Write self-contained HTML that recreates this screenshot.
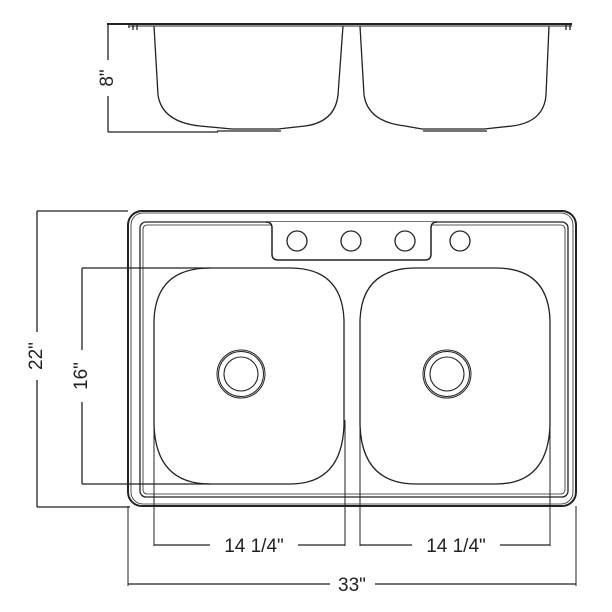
<!DOCTYPE html>
<html><head><style>body{margin:0;background:#fff}svg{display:block}</style></head><body>
<svg width="612" height="612" viewBox="0 0 612 612" xmlns="http://www.w3.org/2000/svg" fill="none" stroke="#222" stroke-width="1.3">
<!-- top (side) view -->
<line x1="107" y1="24" x2="572" y2="24" stroke-width="2"/>
<line x1="130" y1="26" x2="572" y2="26" stroke-width="1"/>
<path d="M129 28v-4M133 30v-5M137 30v-5M566 30v-5M570 30v-5"/>
<path d="M154 26 L158 95 Q162 122 200 126 L232 129 L278 129 L305 126 Q335 122 338 95 L343 26"/>
<path d="M360 26 L364 95 Q368 122 405 126 L422 129 L484 129 L512 126 Q544 122 546 95 L549 26"/>
<line x1="217" y1="131" x2="281" y2="131"/><line x1="423" y1="131" x2="487" y2="131"/>
<line x1="108" y1="25" x2="108" y2="60"/><line x1="108" y1="96" x2="108" y2="132"/>
<line x1="108" y1="132" x2="218" y2="132"/>
<text x="108" y="78" transform="rotate(-90 108 78)" font-family="Liberation Sans, sans-serif" font-size="19" fill="#222" stroke="none" text-anchor="middle" dominant-baseline="middle">8"</text>
<!-- plan view -->
<rect x="128" y="211" width="448" height="295" rx="14" stroke-width="2"/>
<rect x="131" y="213" width="442" height="291" rx="12" stroke-width="0.8"/>
<rect x="140" y="222" width="428" height="275" rx="6"/>
<rect x="143" y="225" width="422" height="269" rx="4" stroke-width="0.8"/>
<path d="M266 222 Q272 222 272 228 L272 254 Q272 260 278 260 L425 260 Q431 260 431 254 L431 228 Q431 222 437 222" fill="#fff" stroke-width="1.5"/>
<circle cx="297" cy="241" r="10"/><circle cx="351" cy="241" r="10"/><circle cx="405" cy="241" r="10"/><circle cx="460" cy="241" r="10"/>
<path d="M154 320 Q156 268 210 268 L290 268 Q342 268 344 320 L344 425 Q342 484 290 484 L210 484 Q156 484 154 425 Z"/>
<path d="M360 320 Q362 268 416 268 L496 268 Q548 268 550 320 L550 425 Q548 484 496 484 L416 484 Q362 484 360 425 Z"/>
<circle cx="241" cy="374" r="24" stroke-width="1"/><circle cx="241" cy="374" r="22.5" stroke-width="1"/><circle cx="241" cy="374" r="17" stroke-width="1.1"/>
<circle cx="447" cy="374" r="24" stroke-width="1"/><circle cx="447" cy="374" r="22.5" stroke-width="1"/><circle cx="447" cy="374" r="17" stroke-width="1.1"/>
<!-- 22 -->
<line x1="37" y1="211" x2="128" y2="211"/><line x1="37" y1="507" x2="130" y2="507"/>
<line x1="37" y1="211" x2="37" y2="332"/><line x1="37" y1="380" x2="37" y2="507"/>
<text x="37" y="356" transform="rotate(-90 37 356)" font-family="Liberation Sans, sans-serif" font-size="19" fill="#222" stroke="none" text-anchor="middle" dominant-baseline="middle">22"</text>
<!-- 16 -->
<line x1="82" y1="268" x2="210" y2="268"/><line x1="82" y1="484" x2="210" y2="484"/>
<line x1="82" y1="268" x2="82" y2="350"/><line x1="82" y1="402" x2="82" y2="484"/>
<text x="82" y="376" transform="rotate(-90 82 376)" font-family="Liberation Sans, sans-serif" font-size="19" fill="#222" stroke="none" text-anchor="middle" dominant-baseline="middle">16"</text>
<!-- 14 1/4 -->
<path d="M154 420V546M345 420V546M360 420V546M550 420V546M128 506V586M576 506V586" stroke-width="1"/>
<line x1="154" y1="545" x2="210" y2="545"/><line x1="298" y1="545" x2="345" y2="545"/>
<line x1="360" y1="545" x2="412" y2="545"/><line x1="500" y1="545" x2="550" y2="545"/>
<text x="254" y="552" font-family="Liberation Sans, sans-serif" font-size="19" fill="#222" stroke="none" text-anchor="middle">14 1/4"</text>
<text x="456" y="552" font-family="Liberation Sans, sans-serif" font-size="19" fill="#222" stroke="none" text-anchor="middle">14 1/4"</text>
<line x1="128" y1="584" x2="330" y2="584"/><line x1="375" y1="584" x2="576" y2="584"/>
<text x="352" y="591" font-family="Liberation Sans, sans-serif" font-size="19" fill="#222" stroke="none" text-anchor="middle">33"</text>
</svg>
</body></html>
